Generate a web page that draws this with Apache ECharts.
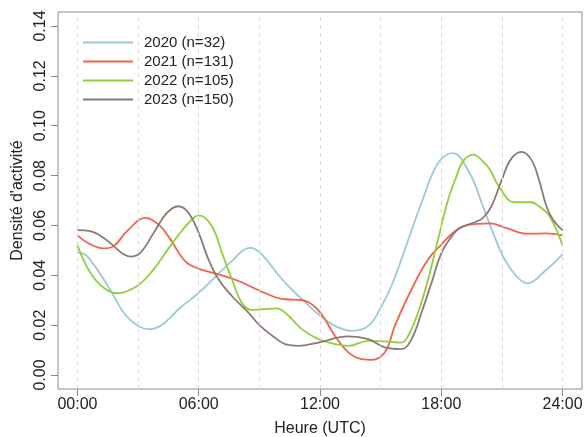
<!DOCTYPE html>
<html>
<head>
<meta charset="utf-8">
<script src="https://cdn.jsdelivr.net/npm/echarts@6/dist/echarts.min.js"></script>
<style>html,body{margin:0;padding:0;background:#fff;}#c{width:585px;height:437px;}</style>
</head>
<body>
<div id="c"></div>
<script>
const seriesNames = ['2020 (n=32)', '2021 (n=131)', '2022 (n=105)', '2023 (n=150)'];
const xTicks = [0, 6, 12, 18, 24];
const xTickLabels = ['00:00', '06:00', '12:00', '18:00', '24:00'];
const yTicks = [0, 0.02, 0.04, 0.06, 0.08, 0.10, 0.12, 0.14];
const yTickLabels = ['0.00', '0.02', '0.04', '0.06', '0.08', '0.10', '0.12', '0.14'];
const gridHours = [0, 3, 6, 9, 12, 15, 18, 21, 24];

const hours2020 = [0, 0.3, 0.8, 1.3, 1.8, 2.29, 2.95, 3.56, 4.1, 4.59, 5.0, 6.0, 7.64, 8.54, 9.04, 9.86, 10.27, 11.1, 11.92, 12.74, 13.56, 14.39, 15.05, 15.6, 16.2, 17.02, 17.84, 18.55, 19.4, 20.06, 20.56, 21.05, 21.71, 22.29, 23.03, 24];
const dens2020  = [0.049, 0.0487, 0.0444, 0.0384, 0.0317, 0.025, 0.020, 0.0184, 0.0197, 0.023, 0.0264, 0.033, 0.0457, 0.051, 0.049, 0.041, 0.0371, 0.0304, 0.0244, 0.0197, 0.0177, 0.0197, 0.0277, 0.037, 0.0504, 0.069, 0.085, 0.089, 0.081, 0.0677, 0.057, 0.0477, 0.0397, 0.0368, 0.041, 0.0484];

const hours2021 = [0, 0.64, 1.3, 1.8, 2.45, 3.36, 4.1, 4.6, 5.33, 5.99, 6.98, 7.97, 9.04, 9.86, 10.27, 11.1, 11.59, 12.08, 12.74, 13.4, 14.06, 14.55, 15.21, 15.7, 16.53, 17.35, 18.01, 18.67, 19.24, 20.4, 21.2, 22.2, 23.2, 24];
const dens2021  = [0.056, 0.0524, 0.0508, 0.0517, 0.0577, 0.063, 0.0597, 0.0544, 0.0457, 0.0427, 0.0404, 0.0377, 0.0337, 0.031, 0.0304, 0.0301, 0.0284, 0.0244, 0.0157, 0.0091, 0.0064, 0.0061, 0.0091, 0.0197, 0.0344, 0.0464, 0.0524, 0.0577, 0.060, 0.0608, 0.059, 0.0567, 0.0568, 0.056];

const hours2022 = [0, 0.64, 1.3, 1.96, 2.95, 3.77, 4.59, 5.5, 6.0, 6.65, 7.15, 7.64, 8.13, 8.63, 9.2, 9.86, 10.36, 11.1, 11.92, 12.74, 13.4, 14.39, 15.21, 16.03, 16.36, 16.85, 17.35, 17.84, 18.34, 18.75, 19.07, 19.57, 20.06, 20.4, 20.9, 21.6, 22.45, 22.86, 23.36, 24];
const dens2022  = [0.052, 0.041, 0.035, 0.0328, 0.0357, 0.0424, 0.0517, 0.061, 0.064, 0.0597, 0.049, 0.0384, 0.029, 0.0261, 0.0264, 0.0267, 0.0244, 0.0184, 0.0144, 0.0124, 0.0117, 0.0137, 0.0135, 0.013, 0.0157, 0.025, 0.0384, 0.0544, 0.0704, 0.0797, 0.0857, 0.0884, 0.0857, 0.0824, 0.075, 0.0693, 0.0693, 0.0675, 0.0637, 0.052];

const hours2023 = [0, 0.64, 1.3, 1.8, 2.29, 2.62, 3.11, 3.77, 4.43, 5.0, 5.5, 6.0, 6.48, 6.98, 7.64, 8.46, 9.04, 9.86, 10.27, 10.93, 11.92, 13.4, 14.39, 15.21, 16.03, 16.53, 17.02, 17.52, 18.01, 18.55, 18.91, 19.57, 20.06, 20.48, 21.0, 21.43, 21.96, 22.45, 22.83, 23.2, 23.52, 24];
const dens2023  = [0.0581, 0.0577, 0.055, 0.0517, 0.0484, 0.0475, 0.049, 0.057, 0.065, 0.0677, 0.065, 0.057, 0.0464, 0.0384, 0.0317, 0.025, 0.0197, 0.0144, 0.0124, 0.0117, 0.013, 0.0155, 0.0144, 0.0111, 0.0104, 0.0144, 0.025, 0.0371, 0.049, 0.056, 0.059, 0.061, 0.063, 0.0677, 0.0784, 0.0864, 0.0895, 0.0864, 0.0784, 0.0677, 0.0624, 0.058];

const colors = ['#9cc9d8', '#f4624a', '#8fd03c', '#8c7b70'];
const allHours = [hours2020, hours2021, hours2022, hours2023];
const allDens = [dens2020, dens2021, dens2022, dens2023];

const font = 'Liberation Sans, Arial, sans-serif';
const txt = '#222';
const boxColor = '#8c8c8c';

const chart = echarts.init(document.getElementById('c'), null, {renderer: 'canvas'});

const curveSeries = seriesNames.map((name, i) => ({
  name: name,
  type: 'line',
  data: allHours[i].map((h, j) => [h, allDens[i][j]]),
  smooth: 0.4,
  symbol: 'none',
  color: colors[i],
  lineStyle: {color: colors[i], width: 1.8},
  z: 2,
  silent: true
}));

const option = {
  animation: false,
  backgroundColor: '#fff',
  textStyle: {fontFamily: font},
  grid: {left: 58, top: 12, right: 3, bottom: 48, show: true, borderColor: boxColor, borderWidth: 1,
         backgroundColor: 'transparent', containLabel: false, outerBoundsMode: 'none'},
  xAxis: {
    type: 'value', min: -0.96, max: 24.96,
    axisLine: {show: false, onZero: false},
    axisTick: {show: true, length: 7, lineStyle: {color: boxColor}, customValues: xTicks},
    splitLine: {show: false},
    axisLabel: {fontSize: 16, color: txt, fontFamily: font, margin: 8, customValues: xTicks,
      formatter: v => xTickLabels[xTicks.indexOf(v)]},
    name: 'Heure (UTC)', nameLocation: 'middle', nameGap: 32,
    nameTextStyle: {fontSize: 16, color: txt, fontFamily: font}
  },
  yAxis: {
    type: 'value', min: -0.0056, max: 0.1456,
    axisLine: {show: false, onZero: false},
    axisTick: {show: true, length: 7, lineStyle: {color: boxColor}, customValues: yTicks},
    splitLine: {show: false},
    axisLabel: {fontSize: 16, color: txt, fontFamily: font, rotate: 90, margin: 9, customValues: yTicks,
      formatter: v => yTickLabels[Math.round(v / 0.02)]},
    name: "Densité d'activité", nameLocation: 'middle', nameGap: 24, nameRotate: 90,
    nameTextStyle: {fontSize: 16, color: txt, fontFamily: font}
  },
  legend: {
    data: seriesNames,
    orient: 'vertical',
    left: 83, top: 35,
    padding: 0,
    itemWidth: 50, itemHeight: 2, itemGap: 4,
    icon: 'rect',
    selectedMode: false,
    z: 6,
    textStyle: {fontSize: 15, color: txt, fontFamily: font, lineHeight: 14, padding: [0, 0, 0, 6]}
  },
  graphic: [
    {type: 'rect', z: 4, silent: true, shape: {x: 59, y: 13, width: 190, height: 113}, style: {fill: '#fff'}}
  ],
  series: [
    {type: 'line', data: [], z: 1, silent: true,
     markLine: {silent: true, symbol: ['none', 'none'], label: {show: false},
       lineStyle: {type: [4, 4], color: '#d9d9d9', width: 1},
       data: gridHours.map(h => ({xAxis: h}))}}
  ].concat(curveSeries)
};
chart.setOption(option);
</script>
</body>
</html>
